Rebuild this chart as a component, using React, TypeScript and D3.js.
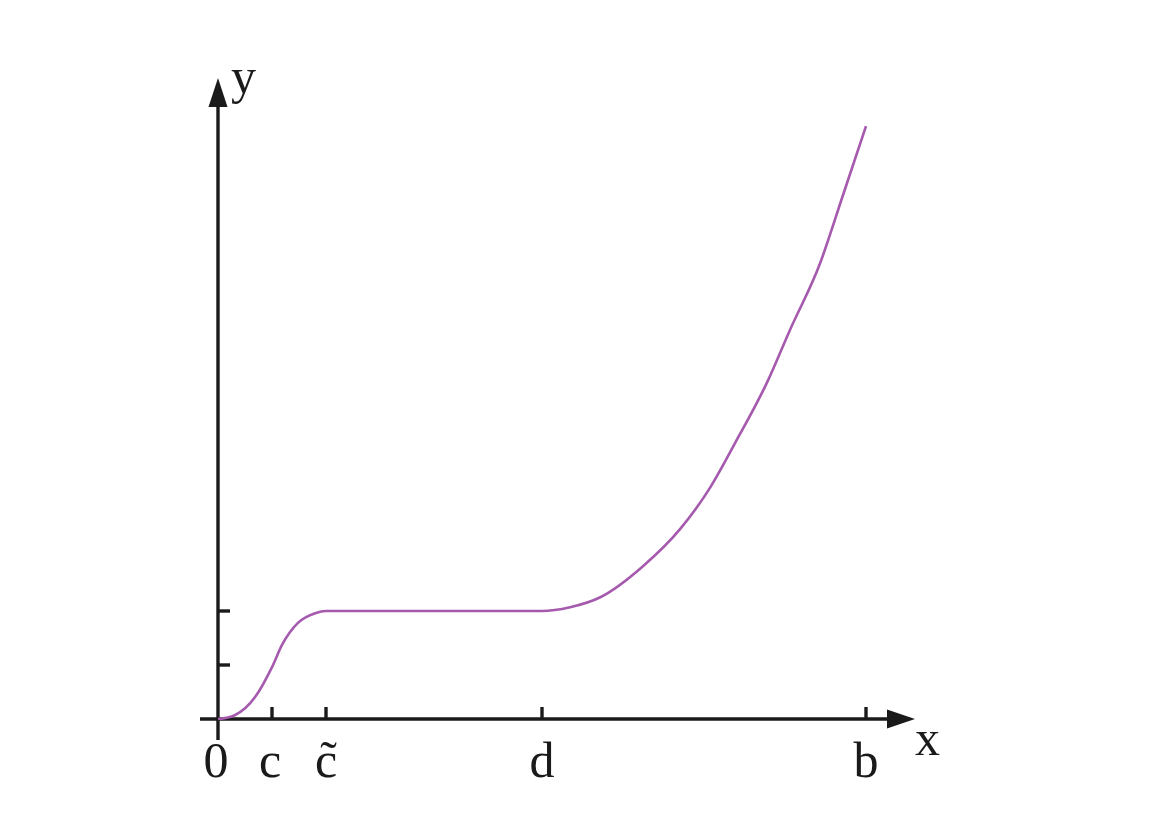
import React from "react";
import * as d3 from "d3";

const curveX = [0, 0.31, 0.69, 1.0, 1.19, 1.48, 1.8, 2.0, 6.0, 6.52, 7.07, 7.87, 8.56, 9.11, 9.57, 10.19, 10.59, 11.15, 11.57, 12.0];
const curveY = [0, 0.07, 0.41, 0.96, 1.38, 1.78, 1.96, 2.0, 2.0, 2.07, 2.25, 2.83, 3.52, 4.28, 5.1, 6.28, 7.2, 8.44, 9.69, 10.98];
const xTickValues = [0, 1, 2, 6, 12];
const xTickLabels = ["0", "c", "c\u0303", "d", "b"];
const yTickValues = [1, 2];

const W = 1170;
const H = 827;

export default function App() {
  const x = d3.scaleLinear().domain([0, 12]).range([218, 866]);
  const y = d3.scaleLinear().domain([0, 11]).range([719, 125]);
  const pts: [number, number][] = curveX.map((v, i) => [v, curveY[i]]);
  const line = d3
    .line<[number, number]>()
    .x((d) => x(d[0]))
    .y((d) => y(d[1]))
    .curve(d3.curveMonotoneX);

  const axisColor = "#1a1a1a";
  const font = "'Liberation Serif', 'Times New Roman', serif";
  const x0 = x(0);
  const y0 = y(0);
  const xEnd = 915;
  const yEnd = 78;

  return (
    <svg width={W} height={H} style={{ position: "absolute", left: 0, top: 0, background: "#fff" }}>
      {/* x axis */}
      <line x1={200} y1={y0} x2={xEnd - 20} y2={y0} stroke={axisColor} strokeWidth={3.4} />
      <path d={`M${xEnd},${y0} L${xEnd - 28},${y0 - 9.5} L${xEnd - 28},${y0 + 9.5} Z`} fill={axisColor} />
      {/* y axis */}
      <line x1={x0} y1={740} x2={x0} y2={yEnd + 20} stroke={axisColor} strokeWidth={3.4} />
      <path d={`M${x0},${yEnd} L${x0 - 9.5},${yEnd + 29} L${x0 + 9.5},${yEnd + 29} Z`} fill={axisColor} />
      {/* x ticks */}
      {xTickValues.slice(1).map((v, i) => (
        <line key={"xt" + i} x1={x(v)} x2={x(v)} y1={y0} y2={y0 - 12} stroke={axisColor} strokeWidth={3.4} />
      ))}
      {/* y ticks */}
      {yTickValues.map((v, i) => (
        <line key={"yt" + i} x1={x0} x2={x0 + 12} y1={y(v)} y2={y(v)} stroke={axisColor} strokeWidth={3.4} />
      ))}
      {/* x tick labels */}
      {xTickValues.map((v, i) => (
        <text
          key={"xl" + i}
          x={x(v) + (i === 0 ? -2 : i === 1 ? -2 : 0)}
          y={777}
          textAnchor="middle"
          fontFamily={font}
          fontSize={50}
          fill={axisColor}
        >
          {xTickLabels[i]}
        </text>
      ))}
      {/* axis names */}
      <text x={915} y={755} fontFamily={font} fontSize={50} fill={axisColor}>
        x
      </text>
      <text x={231} y={93} fontFamily={font} fontSize={50} fill={axisColor}>
        y
      </text>
      {/* curve */}
      <path d={line(pts) || ""} fill="none" stroke="#a55aae" strokeWidth={2.6} />
    </svg>
  );
}
